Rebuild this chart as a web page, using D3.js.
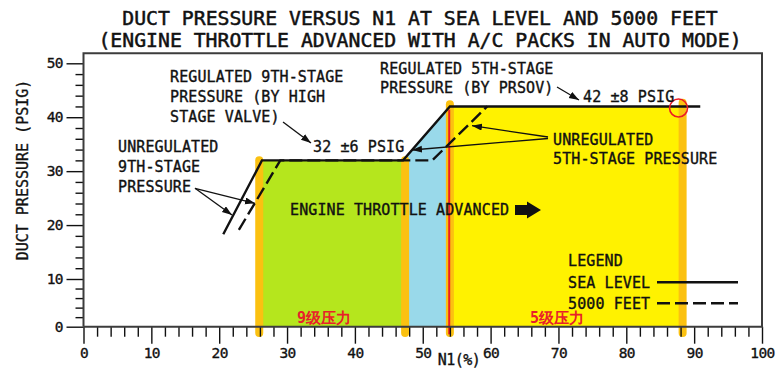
<!DOCTYPE html>
<html><head><meta charset="utf-8">
<script src="https://cdn.jsdelivr.net/npm/d3@7"></script>
<style>
html,body{margin:0;padding:0;background:#fff;}
svg{display:block;}
text{font-family:"DejaVu Sans Mono",monospace;fill:#111;stroke:#111;stroke-width:0.35px;}
</style></head><body>
<svg id="c" width="779" height="375"></svg>
<script>
// ---------- data ----------
const xTicks = [0,10,20,30,40,50,60,70,80,90,100];
const yTicks = [0,10,20,30,40,50];
const seaLevelN1 = [20.6,26.3,47.1,54.0,90.9];
const seaLevelP  = [18.3,32,32,42,42];
const ft5000N1   = [22.9,29.0,51.4,59.5];
const ft5000P    = [19.1,32,32,42];
const stage9N1 = [25.9,47.3];   const stage9P = 32;
const transN1  = [47.1,54.0];   const transP  = [32,42];
const stage5N1 = [54.0,88.3];   const stage5P = 42;
const markerN1  = [25.9,47.4,54.0,88.3];
const markerTop = [32,32,42.4,42.7];
const markerBottom = -1.3;
const redLineN1 = 53.9;
const circleN1 = 87.7, circleP = 41.7;
const titleLines = ["DUCT PRESSURE VERSUS N1 AT SEA LEVEL AND 5000 FEET",
                    "(ENGINE THROTTLE ADVANCED WITH A/C PACKS IN AUTO MODE)"];

// ---------- setup ----------
const svg = d3.select("#c");
const x = d3.scaleLinear().domain([0,100]).range([83.5,762]);
const y = d3.scaleLinear().domain([0,10,50]).range([326.7,279,63.3]);
const frameTop = 53.3;

svg.append("rect").attr("width",779).attr("height",375).attr("fill","#fff");

const defs = svg.append("defs");
defs.append("marker").attr("id","ah").attr("markerUnits","userSpaceOnUse")
  .attr("markerWidth",11).attr("markerHeight",8).attr("refX",10).attr("refY",3.5)
  .attr("orient","auto")
  .append("path").attr("d","M0,0 L10,3.5 L0,7 Z").attr("fill","#111");

// ---------- fills ----------
const area = d3.line().x(d=>x(d[0])).y(d=>y(d[1]));
svg.append("path").attr("fill","#b5e61d")
  .attr("d", area([[stage9N1[0],0],[stage9N1[0],stage9P],[stage9N1[1],stage9P],[stage9N1[1],0]]));
svg.append("path").attr("fill","#99d9ea")
  .attr("d", area([[transN1[0],0],[transN1[0],transP[0]],[transN1[1],transP[1]],[transN1[1],0]]));
svg.append("path").attr("fill","#fff200")
  .attr("d", area([[stage5N1[0],0],[stage5N1[0],stage5P],[stage5N1[1],stage5P],[stage5N1[1],0]]));

// highlighter strokes
svg.selectAll("line.mk").data(markerN1).enter().append("line")
  .attr("x1",d=>x(d)).attr("x2",d=>x(d))
  .attr("y1",(d,i)=>y(markerTop[i])).attr("y2",y(markerBottom))
  .attr("stroke","#fbc111").attr("stroke-width",8).attr("stroke-linecap","round");

// red line
svg.append("line").attr("x1",x(redLineN1)).attr("x2",x(redLineN1))
  .attr("y1",y(41.4)).attr("y2",y(-1.6)).attr("stroke","#ec1c24").attr("stroke-width",2);

// ---------- axes ----------
const minorX = d3.range(0,101,2).filter(v=>v%10!==0);
const minorY = d3.range(0,51,2).filter(v=>v%10!==0);

const gx = svg.append("g").attr("transform",`translate(0,${y(0)})`)
  .call(d3.axisBottom(x).tickValues(xTicks).tickSize(17).tickPadding(3.6).tickFormat(d3.format("d")));
const gxm = svg.append("g").attr("transform",`translate(0,${y(0)})`)
  .call(d3.axisBottom(x).tickValues(minorX).tickSize(10).tickFormat(""));
const gy = svg.append("g").attr("transform",`translate(${x(0)},0)`)
  .call(d3.axisLeft(y).tickValues(yTicks).tickSize(17).tickPadding(3.6).tickFormat(d3.format("d")));
const gym = svg.append("g").attr("transform",`translate(${x(0)},0)`)
  .call(d3.axisLeft(y).tickValues(minorY).tickSize(8).tickFormat(""));
[gx,gxm,gy,gym].forEach(g=>{
  g.select(".domain").remove();
  g.selectAll(".tick line").attr("stroke","#111").attr("stroke-width",1.4);
  g.selectAll(".tick text").attr("font-family","DejaVu Sans Mono").attr("font-size",14.5)
    .attr("letter-spacing",-0.6).attr("fill","#111");
});

// frame
svg.append("path").attr("fill","none").attr("stroke","#3c3c3c").attr("stroke-width",2)
  .attr("d",`M${x(0)},${y(0)} V${frameTop} H${x(100)} V${y(0)} H${x(0)}`);

// ---------- curves ----------
const line = d3.line().x(d=>x(d[0])).y(d=>y(d[1]));
svg.append("path").attr("fill","none").attr("stroke","#111").attr("stroke-width",2.4)
  .attr("stroke-dasharray","13,5")
  .attr("d", line(ft5000N1.map((v,i)=>[v,ft5000P[i]])));
svg.append("path").attr("fill","none").attr("stroke","#111").attr("stroke-width",2.4)
  .attr("stroke-linejoin","miter")
  .attr("d", line(seaLevelN1.map((v,i)=>[v,seaLevelP[i]])));

// red circle
svg.append("circle").attr("cx",x(circleN1)).attr("cy",y(circleP)).attr("r",9)
  .attr("fill","none").attr("stroke","#ec1c24").attr("stroke-width",1.6);

// ---------- texts ----------
const T = (s,xx,yy,opt={})=>{
  const t = svg.append("text").attr("x",xx).attr("y",yy).text(s)
    .attr("font-size",opt.size||15);
  if(opt.anchor) t.attr("text-anchor",opt.anchor);
  if(opt.ls!==undefined) t.attr("letter-spacing",opt.ls);
  return t;
};
T(titleLines[0],420,25.2,{size:19.8,anchor:"middle"}).style("stroke-width","0.5px");
T(titleLines[1],420,47.2,{size:19.8,anchor:"middle"}).style("stroke-width","0.5px");

const ann = [
  ["REGULATED 9TH-STAGE",170,76.5],["PRESSURE (BY HIGH",170,96.5],["STAGE VALVE)",170,116.5],
  ["32 ±6 PSIG",313,147],
  ["REGULATED 5TH-STAGE",380,68.3],["PRESSURE (BY PRSOV)",380,88],
  ["42 ±8 PSIG",583,97],
  ["UNREGULATED",553,140],["5TH-STAGE PRESSURE",553,158.5],
  ["UNREGULATED",118,147],["9TH-STAGE",118,167],["PRESSURE",118,187],
  ["ENGINE THROTTLE ADVANCED",290,209.5],
  ["LEGEND",568,261],["SEA LEVEL",568,282.3],["5000 FEET",568,303.3]
];
ann.forEach(a=>T(a[0],a[1],a[2]+5.4,{size:15,ls:0.1}));

// axis titles
T("N1(%)",459,365,{size:15,anchor:"middle",ls:-0.5});
svg.append("text").attr("transform","translate(28,170) rotate(-90)")
  .attr("text-anchor","middle").attr("font-size",15).attr("letter-spacing",0)
  .text("DUCT PRESSURE (PSIG)");

// arrows
const arrows = [
  [283,122,311,143],[557,87,579,100],
  [548,137,472,125.7],[548,138.5,412,150],
  [195,188.3,232,215],[195,188.3,255,203.3]
];
svg.selectAll("line.ar").data(arrows).enter().append("line")
  .attr("x1",d=>d[0]).attr("y1",d=>d[1]).attr("x2",d=>d[2]).attr("y2",d=>d[3])
  .attr("stroke","#111").attr("stroke-width",1.3).attr("marker-end","url(#ah)");

// big throttle arrow
svg.append("path").attr("fill","#111")
  .attr("d","M515,205 H527 V201.5 L541,210 L527,218.5 V215 H515 Z");

// legend lines
svg.append("line").attr("x1",657).attr("x2",738).attr("y1",282.3).attr("y2",282.3)
  .attr("stroke","#111").attr("stroke-width",2.4);
svg.append("line").attr("x1",657).attr("x2",738).attr("y1",303.3).attr("y2",303.3)
  .attr("stroke","#111").attr("stroke-width",2.4).attr("stroke-dasharray","13,5");

// Chinese labels
["9级压力","5级压力"].forEach((s,i)=>{
  svg.append("text").attr("x",[297,530][i]).attr("y",322.5).text(s)
    .attr("font-family","Noto Sans CJK SC").attr("font-weight",700).attr("font-size",15)
    .style("fill","#e8202a").style("stroke","none");
});
</script>
</body></html>
